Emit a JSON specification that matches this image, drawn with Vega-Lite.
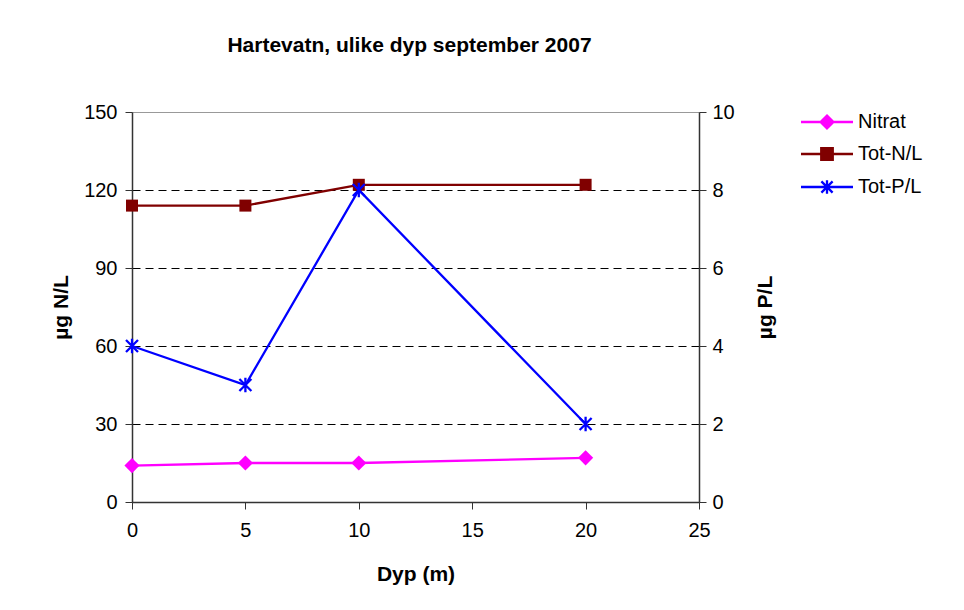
{
  "$schema": "https://vega.github.io/schema/vega-lite/v6.json",
  "width": 567,
  "height": 390,
  "autosize": {"type": "none"},
  "padding": {"left": 132, "top": 112, "right": 265, "bottom": 108},
  "background": "white",
  "title": {
    "text": "Hartevatn, ulike dyp september 2007",
    "font": "Liberation Sans",
    "fontSize": 21,
    "fontWeight": "bold",
    "color": "#000000",
    "anchor": "middle",
    "frame": "group",
    "baseline": "alphabetic",
    "offset": 29,
    "dx": -6
  },
  "data": {
    "values": [
      {"depth": 0, "series": "Nitrat", "value": 14},
      {"depth": 5, "series": "Nitrat", "value": 15},
      {"depth": 10, "series": "Nitrat", "value": 15},
      {"depth": 20, "series": "Nitrat", "value": 17},
      {"depth": 0, "series": "Tot-N/L", "value": 114},
      {"depth": 5, "series": "Tot-N/L", "value": 114},
      {"depth": 10, "series": "Tot-N/L", "value": 122},
      {"depth": 20, "series": "Tot-N/L", "value": 122},
      {"depth": 0, "series": "Tot-P/L", "value": 4},
      {"depth": 5, "series": "Tot-P/L", "value": 3},
      {"depth": 10, "series": "Tot-P/L", "value": 8},
      {"depth": 20, "series": "Tot-P/L", "value": 2}
    ]
  },
  "config": {
    "font": "Liberation Sans",
    "view": {"stroke": "#999999", "strokeWidth": 1},
    "axis": {
      "labelFont": "Liberation Sans",
      "labelFontSize": 20,
      "labelColor": "#000000",
      "labelFlush": false,
      "titleFont": "Liberation Sans",
      "titleFontSize": 21,
      "titleFontWeight": "bold",
      "titleColor": "#000000",
      "domainColor": "#333333",
      "domainWidth": 1.5,
      "tickColor": "#333333",
      "tickWidth": 1,
      "tickSize": 7
    }
  },
  "encoding": {
    "x": {
      "field": "depth",
      "type": "quantitative",
      "scale": {"domain": [0, 25], "nice": false},
      "axis": {
        "title": "Dyp (m)",
        "values": [0, 5, 10, 15, 20, 25],
        "grid": false,
        "labelPadding": 11,
        "titlePadding": 23
      }
    },
    "color": {
      "field": "series",
      "type": "nominal",
      "scale": {
        "domain": ["Nitrat", "Tot-N/L", "Tot-P/L"],
        "range": ["#FF00FF", "#800000", "#0000FF"]
      },
      "legend": {
        "title": null,
        "orient": "none",
        "legendX": 685,
        "legendY": 0,
        "padding": 0,
        "labelFont": "Liberation Sans",
        "labelFontSize": 20,
        "labelColor": "#000000",
        "labelOffset": 21,
        "rowPadding": 10,
        "symbolSize": 256,
        "symbolStrokeWidth": 2,
        "encode": {
          "symbols": {
            "update": {
              "shape": {"signal": "datum.value === 'Nitrat' ? 'M-3.25,0H3.25M0,-0.8L0.8,0L0,0.8L-0.8,0Z' : datum.value === 'Tot-N/L' ? 'M-3.25,0H3.25M-0.72,-0.72H0.72V0.72H-0.72Z' : 'M-3.25,0H3.25M-0.7,-0.7L0.7,0.7M-0.7,0.7L0.7,-0.7M0,-0.85V0.85'"},
              "fill": {"scale": "color", "field": "value"},
              "stroke": {"scale": "color", "field": "value"},
              "strokeWidth": {"value": 2.3},
              "opacity": {"value": 1},
              "fillOpacity": {"value": 1}
            }
          }
        }
      }
    }
  },
  "layer": [
    {
      "transform": [{"filter": "datum.series !== 'Tot-P/L'"}],
      "encoding": {
        "y": {
          "field": "value",
          "type": "quantitative",
          "scale": {"domain": [0, 150], "nice": false},
          "axis": {
            "title": "µg N/L",
            "titleAngle": 270,
            "values": [0, 30, 60, 90, 120, 150],
            "grid": true,
            "gridColor": "#000000",
            "gridDash": [8, 5],
            "gridWidth": 1,
            "gridOpacity": {"condition": {"test": "datum.value === 0 || datum.value === 150", "value": 0}, "value": 1},
            "labelPadding": 8,
            "titlePadding": 12
          }
        }
      },
      "layer": [
        {"mark": {"type": "line", "strokeWidth": 2.3}},
        {
          "mark": {"type": "point", "filled": true, "opacity": 1},
          "encoding": {
            "shape": {
              "field": "series",
              "type": "nominal",
              "scale": {"domain": ["Nitrat", "Tot-N/L"], "range": ["diamond", "square"]},
              "legend": null
            },
            "size": {
              "field": "series",
              "type": "ordinal",
              "scale": {"domain": ["Nitrat", "Tot-N/L"], "range": [230, 144]},
              "legend": null
            }
          }
        }
      ]
    },
    {
      "transform": [{"filter": "datum.series === 'Tot-P/L'"}],
      "encoding": {
        "y": {
          "field": "value",
          "type": "quantitative",
          "scale": {"domain": [0, 10], "nice": false},
          "axis": {
            "orient": "right",
            "title": "µg P/L",
            "titleAngle": 270,
            "values": [0, 2, 4, 6, 8, 10],
            "grid": false,
            "labelPadding": 6,
            "titlePadding": 41
          }
        }
      },
      "layer": [
        {"mark": {"type": "line", "strokeWidth": 2.3}},
        {
          "mark": {
            "type": "point",
            "filled": false,
            "opacity": 1,
            "size": 144,
            "strokeWidth": 2.3,
            "shape": "M-1,-1L1,1M-1,1L1,-1M0,-1.2V1.2"
          }
        }
      ]
    }
  ],
  "resolve": {"scale": {"y": "independent", "shape": "independent", "size": "independent"}}
}
